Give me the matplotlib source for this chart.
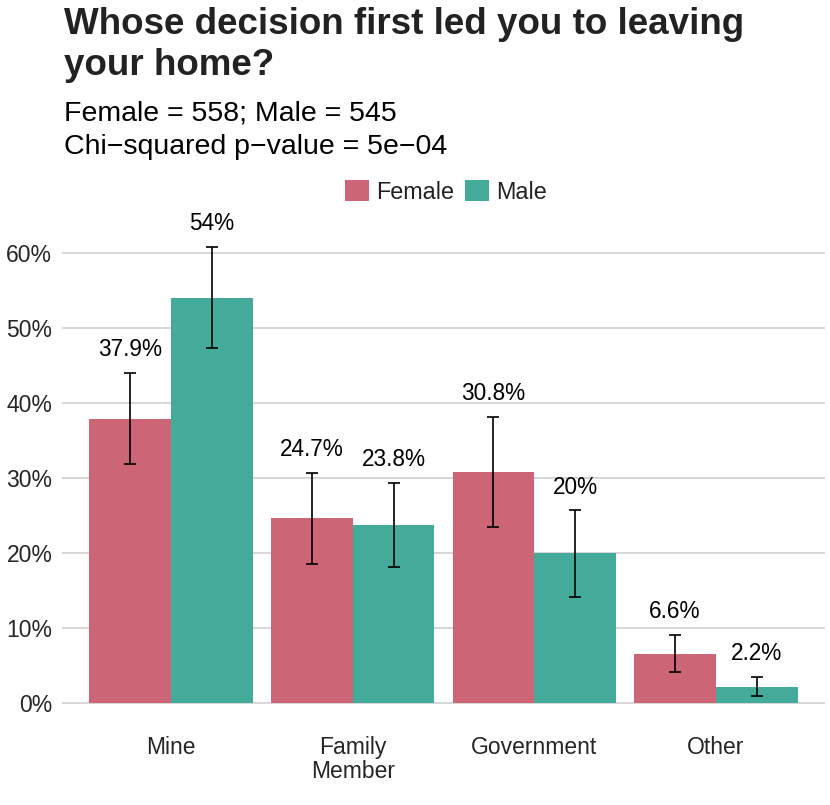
import numpy as np
import matplotlib
matplotlib.use("Agg")
import matplotlib.pyplot as plt
from matplotlib.patches import Patch

plt.rcParams['font.family'] = ['Liberation Sans', 'DejaVu Sans']

categories = ["Mine", "Family\nMember", "Government", "Other"]
female = [37.9, 24.7, 30.8, 6.6]
male = [54.0, 23.8, 20.0, 2.2]
female_lo = [31.9, 18.6, 23.5, 4.1]
female_hi = [44.0, 30.7, 38.1, 9.1]
male_lo = [47.3, 18.2, 14.2, 1.0]
male_hi = [60.8, 29.4, 25.7, 3.5]
female_labels = ["37.9%", "24.7%", "30.8%", "6.6%"]
male_labels = ["54%", "23.8%", "20%", "2.2%"]

col_f = "#CC6677"
col_m = "#44AA99"

fig = plt.figure(figsize=(8.3, 8.05), dpi=100)
ax = fig.add_axes([62 / 830, 78 / 805, 763 / 830, 528 / 805])

x = np.arange(len(categories))
w = 0.45

for vals, lo, hi, labs, off, col in [
    (female, female_lo, female_hi, female_labels, -w / 2, col_f),
    (male, male_lo, male_hi, male_labels, w / 2, col_m),
]:
    v = np.array(vals) / 100
    l = np.array(lo) / 100
    h = np.array(hi) / 100
    ax.bar(x + off, v, width=w, color=col, zorder=2)
    ax.errorbar(x + off, v, yerr=[v - l, h - v], fmt="none", ecolor="black",
                elinewidth=1.2, capsize=4, capthick=1.2, zorder=3)
    for xi, hi_i, lab in zip(x + off, h, labs):
        ax.text(xi, hi_i + 0.031, lab, ha="center", va="center", fontsize=16.3,
                color="black")

ax.set_xlim(-0.6, 3.6)
ax.set_ylim(-0.032, 0.672)
ax.set_yticks(np.arange(0, 0.61, 0.1))
ax.set_yticklabels([f"{int(round(t * 100))}%" for t in np.arange(0, 0.61, 0.1)])
ax.set_xticks(x)
ax.set_xticklabels(categories, linespacing=1.05)
ax.tick_params(axis="both", length=0, labelsize=16.5, labelcolor="#262626")
ax.tick_params(axis="x", pad=6.5)
ax.tick_params(axis="y", pad=7)
for tl in ax.get_xticklabels():
    tl.set_verticalalignment("top")
ax.grid(axis="y", color="#CCCCCC", linewidth=1.1, zorder=0)
ax.set_axisbelow(True)
for s in ax.spines.values():
    s.set_visible(False)

fig.text(64 / 830, 1 - 7 / 805, "Whose decision first led you to leaving\nyour home?",
         fontsize=26.5, fontweight="bold", color="#222222", va="top", ha="left",
         linespacing=1.21)
fig.text(64 / 830, 1 - 100 / 805, "Female = 558; Male = 545\nChi\u2212squared p\u2212value = 5e\u221204",
         fontsize=20.5, color="black", va="top", ha="left", linespacing=1.41)

handles = [Patch(facecolor=col_f, label="Female"), Patch(facecolor=col_m, label="Male")]
fig.legend(handles=handles, loc="center", bbox_to_anchor=(446 / 830, 1 - 192 / 805),
           ncol=2, frameon=False, fontsize=16.8, handlelength=1.0, handleheight=1.0,
           handletextpad=0.3, columnspacing=0.5, labelcolor="#222222")

fig.savefig("out.png", dpi=100)
